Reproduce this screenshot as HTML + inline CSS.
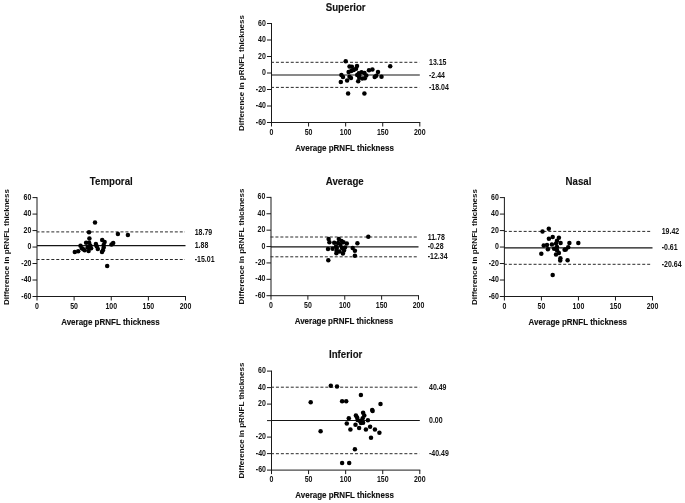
<!DOCTYPE html>
<html><head><meta charset="utf-8"><style>
html,body{margin:0;padding:0;background:#fff;width:685px;height:503px;overflow:hidden}
svg{display:block}
text{font-family:"Liberation Sans", sans-serif;font-weight:bold;fill:#111;stroke:#111;stroke-width:0.12px}
.tk{font-size:7px;stroke-width:0}
.at{font-size:8px}
.yt{font-size:8px;stroke-width:0}
.ti{font-size:10px}
.ax{stroke:#1a1a1a;stroke-width:1;fill:none}
.da{stroke:#2a2a2a;stroke-width:1;stroke-dasharray:3 1.94;fill:none}
.mn{stroke:#151515;stroke-width:1.2;fill:none}
circle{fill:#000}
</style></head><body>
<div style="will-change:transform"><svg width="685" height="503" viewBox="0 0 685 503">
<path d="M271.50,23.00V126.50M271.00,122.50H420.30" class="ax"/>
<path d="M267.00,122.50H271.50M267.00,106.00H271.50M267.00,89.50H271.50M267.00,73.00H271.50M267.00,56.50H271.50M267.00,40.00H271.50M267.00,23.50H271.50M308.57,122.50V126.50M345.65,122.50V126.50M382.73,122.50V126.50M419.80,122.50V126.50" class="ax"/>
<text transform="translate(265.90,124.50) scale(1.0,1.2)" class="tk" text-anchor="end">-60</text>
<text transform="translate(265.90,108.00) scale(1.0,1.2)" class="tk" text-anchor="end">-40</text>
<text transform="translate(265.90,91.50) scale(1.0,1.2)" class="tk" text-anchor="end">-20</text>
<text transform="translate(265.90,75.00) scale(1.0,1.2)" class="tk" text-anchor="end">0</text>
<text transform="translate(265.90,58.50) scale(1.0,1.2)" class="tk" text-anchor="end">20</text>
<text transform="translate(265.90,42.00) scale(1.0,1.2)" class="tk" text-anchor="end">40</text>
<text transform="translate(265.90,25.50) scale(1.0,1.2)" class="tk" text-anchor="end">60</text>
<text transform="translate(271.50,134.60) scale(1.0,1.2)" class="tk" text-anchor="middle">0</text>
<text transform="translate(308.57,134.60) scale(1.0,1.2)" class="tk" text-anchor="middle">50</text>
<text transform="translate(345.65,134.60) scale(1.0,1.2)" class="tk" text-anchor="middle">100</text>
<text transform="translate(382.73,134.60) scale(1.0,1.2)" class="tk" text-anchor="middle">150</text>
<text transform="translate(419.80,134.60) scale(1.0,1.2)" class="tk" text-anchor="middle">200</text>
<text transform="translate(345.65,10.70) scale(0.97,1.0)" class="ti" text-anchor="middle">Superior</text>
<text transform="translate(344.55,150.80) scale(1.0,1.15)" class="at" text-anchor="middle">Average pRNFL thickness</text>
<text transform="translate(243.80,73.00) rotate(-90) scale(1.0,1.0)" class="yt" text-anchor="middle">Difference in pRNFL thickness</text>
<path d="M271.00,62.30H419.30M271.00,87.40H419.30" class="da"/>
<path d="M271.50,75.00H419.80" class="mn"/>
<text transform="translate(429.00,64.90) scale(1.0,1.2)" class="tk">13.15</text>
<text transform="translate(429.00,77.60) scale(1.0,1.2)" class="tk">-2.44</text>
<text transform="translate(429.00,90.00) scale(1.0,1.2)" class="tk">-18.04</text>
<circle cx="345.7" cy="61.3" r="2.25"/>
<circle cx="349.5" cy="66.5" r="2.25"/>
<circle cx="351.9" cy="66.8" r="2.25"/>
<circle cx="357.0" cy="66.0" r="2.25"/>
<circle cx="348.6" cy="72.1" r="2.25"/>
<circle cx="351.2" cy="71.0" r="2.25"/>
<circle cx="353.7" cy="69.9" r="2.25"/>
<circle cx="356.0" cy="68.8" r="2.25"/>
<circle cx="341.4" cy="75.1" r="2.25"/>
<circle cx="343.0" cy="77.0" r="2.25"/>
<circle cx="340.8" cy="81.9" r="2.25"/>
<circle cx="349.5" cy="76.8" r="2.25"/>
<circle cx="351.0" cy="78.1" r="2.25"/>
<circle cx="347.1" cy="80.5" r="2.25"/>
<circle cx="361.5" cy="72.3" r="2.25"/>
<circle cx="358.8" cy="73.2" r="2.25"/>
<circle cx="364.5" cy="73.0" r="2.25"/>
<circle cx="357.2" cy="75.1" r="2.25"/>
<circle cx="359.2" cy="75.5" r="2.25"/>
<circle cx="366.3" cy="75.4" r="2.25"/>
<circle cx="359.2" cy="77.8" r="2.25"/>
<circle cx="362.2" cy="78.5" r="2.25"/>
<circle cx="364.8" cy="78.3" r="2.25"/>
<circle cx="358.2" cy="81.2" r="2.25"/>
<circle cx="369.0" cy="70.3" r="2.25"/>
<circle cx="372.4" cy="69.4" r="2.25"/>
<circle cx="378.0" cy="71.9" r="2.25"/>
<circle cx="374.7" cy="76.9" r="2.25"/>
<circle cx="376.3" cy="75.8" r="2.25"/>
<circle cx="381.5" cy="76.7" r="2.25"/>
<circle cx="390.2" cy="66.3" r="2.25"/>
<circle cx="348.1" cy="93.4" r="2.25"/>
<circle cx="364.4" cy="93.4" r="2.25"/>
<path d="M37.00,197.10V300.50M36.50,296.50H186.00" class="ax"/>
<path d="M32.50,296.50H37.00M32.50,280.02H37.00M32.50,263.53H37.00M32.50,247.05H37.00M32.50,230.57H37.00M32.50,214.08H37.00M32.50,197.60H37.00M74.12,296.50V300.50M111.25,296.50V300.50M148.38,296.50V300.50M185.50,296.50V300.50" class="ax"/>
<text transform="translate(31.40,298.50) scale(1.0,1.2)" class="tk" text-anchor="end">-60</text>
<text transform="translate(31.40,282.02) scale(1.0,1.2)" class="tk" text-anchor="end">-40</text>
<text transform="translate(31.40,265.53) scale(1.0,1.2)" class="tk" text-anchor="end">-20</text>
<text transform="translate(31.40,249.05) scale(1.0,1.2)" class="tk" text-anchor="end">0</text>
<text transform="translate(31.40,232.57) scale(1.0,1.2)" class="tk" text-anchor="end">20</text>
<text transform="translate(31.40,216.08) scale(1.0,1.2)" class="tk" text-anchor="end">40</text>
<text transform="translate(31.40,199.60) scale(1.0,1.2)" class="tk" text-anchor="end">60</text>
<text transform="translate(37.00,308.60) scale(1.0,1.2)" class="tk" text-anchor="middle">0</text>
<text transform="translate(74.12,308.60) scale(1.0,1.2)" class="tk" text-anchor="middle">50</text>
<text transform="translate(111.25,308.60) scale(1.0,1.2)" class="tk" text-anchor="middle">100</text>
<text transform="translate(148.38,308.60) scale(1.0,1.2)" class="tk" text-anchor="middle">150</text>
<text transform="translate(185.50,308.60) scale(1.0,1.2)" class="tk" text-anchor="middle">200</text>
<text transform="translate(111.25,184.80) scale(0.97,1.0)" class="ti" text-anchor="middle">Temporal</text>
<text transform="translate(110.45,325.20) scale(1.0,1.15)" class="at" text-anchor="middle">Average pRNFL thickness</text>
<text transform="translate(9.30,247.05) rotate(-90) scale(1.0,1.0)" class="yt" text-anchor="middle">Difference in pRNFL thickness</text>
<path d="M36.50,231.90H185.00M36.50,259.50H185.00" class="da"/>
<path d="M37.00,245.70H185.50" class="mn"/>
<text transform="translate(194.70,234.50) scale(1.0,1.2)" class="tk">18.79</text>
<text transform="translate(194.70,248.30) scale(1.0,1.2)" class="tk">1.88</text>
<text transform="translate(194.70,262.10) scale(1.0,1.2)" class="tk">-15.01</text>
<circle cx="95.0" cy="222.6" r="2.25"/>
<circle cx="89.0" cy="232.2" r="2.25"/>
<circle cx="89.4" cy="238.4" r="2.25"/>
<circle cx="117.9" cy="234.1" r="2.25"/>
<circle cx="83.3" cy="249.2" r="2.25"/>
<circle cx="127.9" cy="235.1" r="2.25"/>
<circle cx="107.2" cy="266.1" r="2.25"/>
<circle cx="74.8" cy="252.1" r="2.25"/>
<circle cx="78.2" cy="251.3" r="2.25"/>
<circle cx="80.5" cy="245.8" r="2.25"/>
<circle cx="81.9" cy="248.3" r="2.25"/>
<circle cx="84.7" cy="250.3" r="2.25"/>
<circle cx="86.1" cy="242.8" r="2.25"/>
<circle cx="89.1" cy="242.8" r="2.25"/>
<circle cx="87.7" cy="247.2" r="2.25"/>
<circle cx="88.6" cy="251.1" r="2.25"/>
<circle cx="91.1" cy="248.3" r="2.25"/>
<circle cx="90.3" cy="245.5" r="2.25"/>
<circle cx="95.9" cy="244.1" r="2.25"/>
<circle cx="96.7" cy="246.2" r="2.25"/>
<circle cx="97.8" cy="248.9" r="2.25"/>
<circle cx="102.2" cy="240.1" r="2.25"/>
<circle cx="104.6" cy="242.1" r="2.25"/>
<circle cx="103.7" cy="244.9" r="2.25"/>
<circle cx="103.7" cy="247.6" r="2.25"/>
<circle cx="102.9" cy="250.2" r="2.25"/>
<circle cx="102.0" cy="251.9" r="2.25"/>
<circle cx="111.5" cy="244.6" r="2.25"/>
<circle cx="113.2" cy="242.9" r="2.25"/>
<path d="M271.00,196.90V299.70M270.50,295.70H419.00" class="ax"/>
<path d="M266.50,295.70H271.00M266.50,279.32H271.00M266.50,262.93H271.00M266.50,246.55H271.00M266.50,230.17H271.00M266.50,213.78H271.00M266.50,197.40H271.00M307.88,295.70V299.70M344.75,295.70V299.70M381.62,295.70V299.70M418.50,295.70V299.70" class="ax"/>
<text transform="translate(265.40,297.70) scale(1.0,1.2)" class="tk" text-anchor="end">-60</text>
<text transform="translate(265.40,281.32) scale(1.0,1.2)" class="tk" text-anchor="end">-40</text>
<text transform="translate(265.40,264.93) scale(1.0,1.2)" class="tk" text-anchor="end">-20</text>
<text transform="translate(265.40,248.55) scale(1.0,1.2)" class="tk" text-anchor="end">0</text>
<text transform="translate(265.40,232.17) scale(1.0,1.2)" class="tk" text-anchor="end">20</text>
<text transform="translate(265.40,215.78) scale(1.0,1.2)" class="tk" text-anchor="end">40</text>
<text transform="translate(265.40,199.40) scale(1.0,1.2)" class="tk" text-anchor="end">60</text>
<text transform="translate(271.00,307.80) scale(1.0,1.2)" class="tk" text-anchor="middle">0</text>
<text transform="translate(307.88,307.80) scale(1.0,1.2)" class="tk" text-anchor="middle">50</text>
<text transform="translate(344.75,307.80) scale(1.0,1.2)" class="tk" text-anchor="middle">100</text>
<text transform="translate(381.62,307.80) scale(1.0,1.2)" class="tk" text-anchor="middle">150</text>
<text transform="translate(418.50,307.80) scale(1.0,1.2)" class="tk" text-anchor="middle">200</text>
<text transform="translate(344.75,184.60) scale(0.97,1.0)" class="ti" text-anchor="middle">Average</text>
<text transform="translate(343.95,324.00) scale(1.0,1.15)" class="at" text-anchor="middle">Average pRNFL thickness</text>
<text transform="translate(244.10,246.55) rotate(-90) scale(1.0,1.0)" class="yt" text-anchor="middle">Difference in pRNFL thickness</text>
<path d="M270.50,237.00H418.00M270.50,256.80H418.00" class="da"/>
<path d="M271.00,246.80H418.50" class="mn"/>
<text transform="translate(427.70,239.60) scale(1.0,1.2)" class="tk">11.78</text>
<text transform="translate(427.70,249.40) scale(1.0,1.2)" class="tk">-0.28</text>
<text transform="translate(427.70,259.40) scale(1.0,1.2)" class="tk">-12.34</text>
<circle cx="338.8" cy="239.0" r="2.25"/>
<circle cx="341.5" cy="241.0" r="2.25"/>
<circle cx="343.5" cy="242.2" r="2.25"/>
<circle cx="346.8" cy="243.6" r="2.25"/>
<circle cx="334.2" cy="242.7" r="2.25"/>
<circle cx="338.0" cy="243.0" r="2.25"/>
<circle cx="340.5" cy="245.0" r="2.25"/>
<circle cx="336.0" cy="246.5" r="2.25"/>
<circle cx="332.6" cy="248.7" r="2.25"/>
<circle cx="345.0" cy="247.5" r="2.25"/>
<circle cx="342.0" cy="248.0" r="2.25"/>
<circle cx="336.6" cy="250.8" r="2.25"/>
<circle cx="336.4" cy="253.2" r="2.25"/>
<circle cx="342.9" cy="253.5" r="2.25"/>
<circle cx="339.5" cy="251.5" r="2.25"/>
<circle cx="344.0" cy="250.5" r="2.25"/>
<circle cx="336.8" cy="248.0" r="2.25"/>
<circle cx="328.6" cy="239.1" r="2.25"/>
<circle cx="329.4" cy="242.3" r="2.25"/>
<circle cx="328.0" cy="248.9" r="2.25"/>
<circle cx="328.3" cy="260.2" r="2.25"/>
<circle cx="368.3" cy="236.7" r="2.25"/>
<circle cx="357.4" cy="243.2" r="2.25"/>
<circle cx="352.7" cy="248.1" r="2.25"/>
<circle cx="354.9" cy="250.7" r="2.25"/>
<circle cx="354.9" cy="255.7" r="2.25"/>
<path d="M504.40,197.10V300.50M503.90,296.50H653.00" class="ax"/>
<path d="M499.90,296.50H504.40M499.90,280.02H504.40M499.90,263.53H504.40M499.90,247.05H504.40M499.90,230.57H504.40M499.90,214.08H504.40M499.90,197.60H504.40M541.42,296.50V300.50M578.45,296.50V300.50M615.48,296.50V300.50M652.50,296.50V300.50" class="ax"/>
<text transform="translate(498.80,298.50) scale(1.0,1.2)" class="tk" text-anchor="end">-60</text>
<text transform="translate(498.80,282.02) scale(1.0,1.2)" class="tk" text-anchor="end">-40</text>
<text transform="translate(498.80,265.53) scale(1.0,1.2)" class="tk" text-anchor="end">-20</text>
<text transform="translate(498.80,249.05) scale(1.0,1.2)" class="tk" text-anchor="end">0</text>
<text transform="translate(498.80,232.57) scale(1.0,1.2)" class="tk" text-anchor="end">20</text>
<text transform="translate(498.80,216.08) scale(1.0,1.2)" class="tk" text-anchor="end">40</text>
<text transform="translate(498.80,199.60) scale(1.0,1.2)" class="tk" text-anchor="end">60</text>
<text transform="translate(504.40,308.60) scale(1.0,1.2)" class="tk" text-anchor="middle">0</text>
<text transform="translate(541.42,308.60) scale(1.0,1.2)" class="tk" text-anchor="middle">50</text>
<text transform="translate(578.45,308.60) scale(1.0,1.2)" class="tk" text-anchor="middle">100</text>
<text transform="translate(615.48,308.60) scale(1.0,1.2)" class="tk" text-anchor="middle">150</text>
<text transform="translate(652.50,308.60) scale(1.0,1.2)" class="tk" text-anchor="middle">200</text>
<text transform="translate(578.45,184.80) scale(0.97,1.0)" class="ti" text-anchor="middle">Nasal</text>
<text transform="translate(577.75,325.20) scale(1.0,1.15)" class="at" text-anchor="middle">Average pRNFL thickness</text>
<text transform="translate(476.70,247.05) rotate(-90) scale(1.0,1.0)" class="yt" text-anchor="middle">Difference in pRNFL thickness</text>
<path d="M503.90,231.40H652.00M503.90,264.30H652.00" class="da"/>
<path d="M504.40,247.80H652.50" class="mn"/>
<text transform="translate(661.70,234.00) scale(1.0,1.2)" class="tk">19.42</text>
<text transform="translate(661.70,250.40) scale(1.0,1.2)" class="tk">-0.61</text>
<text transform="translate(661.70,266.90) scale(1.0,1.2)" class="tk">-20.64</text>
<circle cx="548.8" cy="228.7" r="2.25"/>
<circle cx="542.5" cy="231.6" r="2.25"/>
<circle cx="543.7" cy="245.6" r="2.25"/>
<circle cx="541.3" cy="253.8" r="2.25"/>
<circle cx="569.4" cy="242.9" r="2.25"/>
<circle cx="578.3" cy="242.9" r="2.25"/>
<circle cx="565.8" cy="249.6" r="2.25"/>
<circle cx="568.2" cy="247.2" r="2.25"/>
<circle cx="560.4" cy="258.2" r="2.25"/>
<circle cx="560.2" cy="260.4" r="2.25"/>
<circle cx="567.6" cy="260.3" r="2.25"/>
<circle cx="552.7" cy="275.1" r="2.25"/>
<circle cx="548.9" cy="238.8" r="2.25"/>
<circle cx="552.7" cy="236.9" r="2.25"/>
<circle cx="558.9" cy="237.8" r="2.25"/>
<circle cx="557.0" cy="240.7" r="2.25"/>
<circle cx="560.6" cy="242.9" r="2.25"/>
<circle cx="556.0" cy="243.5" r="2.25"/>
<circle cx="551.9" cy="244.6" r="2.25"/>
<circle cx="547.0" cy="245.0" r="2.25"/>
<circle cx="547.9" cy="249.3" r="2.25"/>
<circle cx="554.1" cy="248.8" r="2.25"/>
<circle cx="557.0" cy="246.9" r="2.25"/>
<circle cx="557.0" cy="250.2" r="2.25"/>
<circle cx="558.9" cy="253.1" r="2.25"/>
<circle cx="556.0" cy="254.5" r="2.25"/>
<circle cx="564.6" cy="249.8" r="2.25"/>
<path d="M271.50,370.60V474.10M271.00,470.10H420.30" class="ax"/>
<path d="M267.00,470.10H271.50M267.00,453.60H271.50M267.00,437.10H271.50M267.00,420.60H271.50M267.00,404.10H271.50M267.00,387.60H271.50M267.00,371.10H271.50M308.57,470.10V474.10M345.65,470.10V474.10M382.73,470.10V474.10M419.80,470.10V474.10" class="ax"/>
<text transform="translate(265.90,472.10) scale(1.0,1.2)" class="tk" text-anchor="end">-60</text>
<text transform="translate(265.90,455.60) scale(1.0,1.2)" class="tk" text-anchor="end">-40</text>
<text transform="translate(265.90,439.10) scale(1.0,1.2)" class="tk" text-anchor="end">-20</text>
<text transform="translate(265.90,406.10) scale(1.0,1.2)" class="tk" text-anchor="end">20</text>
<text transform="translate(265.90,389.60) scale(1.0,1.2)" class="tk" text-anchor="end">40</text>
<text transform="translate(265.90,373.10) scale(1.0,1.2)" class="tk" text-anchor="end">60</text>
<text transform="translate(271.50,482.20) scale(1.0,1.2)" class="tk" text-anchor="middle">0</text>
<text transform="translate(308.57,482.20) scale(1.0,1.2)" class="tk" text-anchor="middle">50</text>
<text transform="translate(345.65,482.20) scale(1.0,1.2)" class="tk" text-anchor="middle">100</text>
<text transform="translate(382.73,482.20) scale(1.0,1.2)" class="tk" text-anchor="middle">150</text>
<text transform="translate(419.80,482.20) scale(1.0,1.2)" class="tk" text-anchor="middle">200</text>
<text transform="translate(345.65,358.30) scale(0.97,1.0)" class="ti" text-anchor="middle">Inferior</text>
<text transform="translate(344.55,497.90) scale(1.0,1.15)" class="at" text-anchor="middle">Average pRNFL thickness</text>
<text transform="translate(243.80,420.60) rotate(-90) scale(1.0,1.0)" class="yt" text-anchor="middle">Difference in pRNFL thickness</text>
<path d="M271.00,387.20H419.30M271.00,453.70H419.30" class="da"/>
<path d="M271.50,420.50H419.80" class="mn"/>
<text transform="translate(429.00,389.80) scale(1.0,1.2)" class="tk">40.49</text>
<text transform="translate(429.00,423.10) scale(1.0,1.2)" class="tk">0.00</text>
<text transform="translate(429.00,456.30) scale(1.0,1.2)" class="tk">-40.49</text>
<circle cx="330.8" cy="385.7" r="2.25"/>
<circle cx="337.0" cy="386.6" r="2.25"/>
<circle cx="360.9" cy="395.0" r="2.25"/>
<circle cx="310.7" cy="402.2" r="2.25"/>
<circle cx="342.1" cy="401.3" r="2.25"/>
<circle cx="346.2" cy="401.3" r="2.25"/>
<circle cx="380.5" cy="403.9" r="2.25"/>
<circle cx="372.2" cy="410.1" r="2.25"/>
<circle cx="372.6" cy="410.9" r="2.25"/>
<circle cx="320.6" cy="431.2" r="2.25"/>
<circle cx="354.9" cy="449.2" r="2.25"/>
<circle cx="342.1" cy="463.0" r="2.25"/>
<circle cx="349.2" cy="463.0" r="2.25"/>
<circle cx="363.1" cy="412.8" r="2.25"/>
<circle cx="364.3" cy="415.5" r="2.25"/>
<circle cx="355.9" cy="415.5" r="2.25"/>
<circle cx="357.1" cy="417.5" r="2.25"/>
<circle cx="348.8" cy="418.3" r="2.25"/>
<circle cx="362.7" cy="418.3" r="2.25"/>
<circle cx="359.9" cy="421.1" r="2.25"/>
<circle cx="363.1" cy="422.7" r="2.25"/>
<circle cx="357.6" cy="420.0" r="2.25"/>
<circle cx="361.0" cy="423.0" r="2.25"/>
<circle cx="367.9" cy="420.3" r="2.25"/>
<circle cx="346.8" cy="423.5" r="2.25"/>
<circle cx="355.5" cy="424.7" r="2.25"/>
<circle cx="359.1" cy="427.9" r="2.25"/>
<circle cx="350.4" cy="429.5" r="2.25"/>
<circle cx="365.9" cy="429.5" r="2.25"/>
<circle cx="370.1" cy="426.8" r="2.25"/>
<circle cx="374.9" cy="429.4" r="2.25"/>
<circle cx="379.4" cy="432.7" r="2.25"/>
<circle cx="371.0" cy="437.8" r="2.25"/>
</svg></div>
</body></html>
